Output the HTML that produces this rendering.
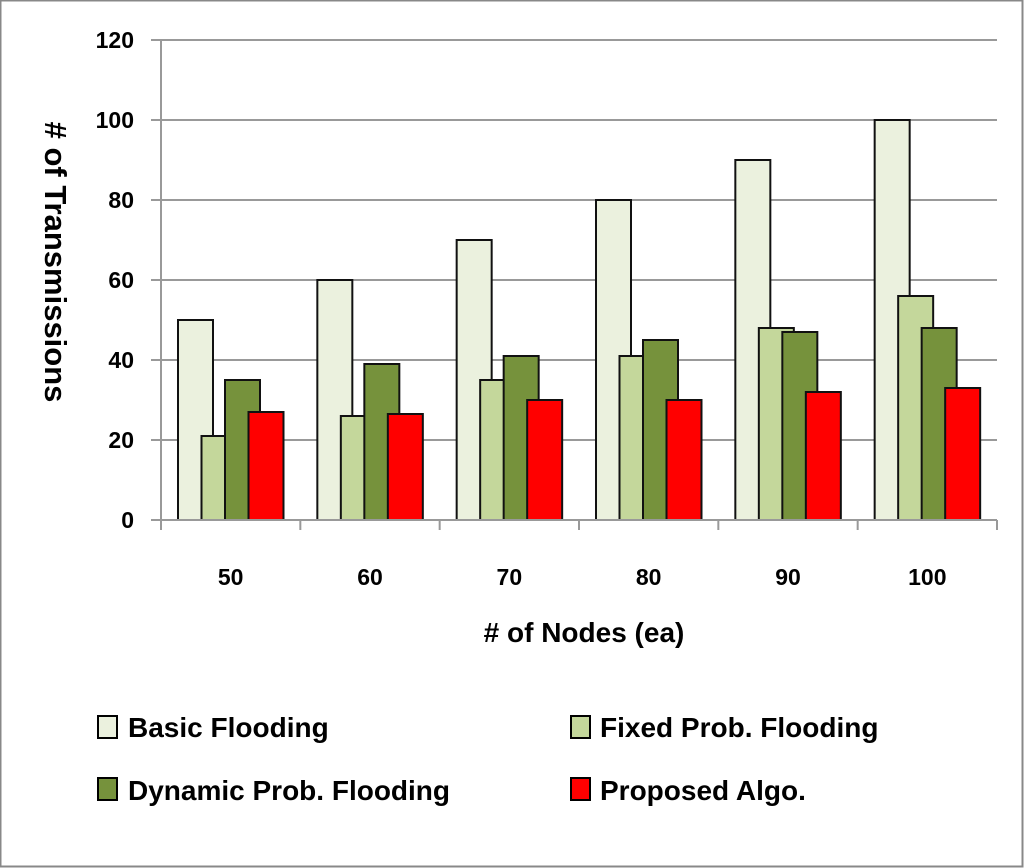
<!DOCTYPE html>
<html><head><meta charset="utf-8"><style>
body{margin:0;background:#fff}
svg{display:block}
text{font-family:"Liberation Sans",sans-serif;font-weight:bold;fill:#000}
</style></head><body>
<svg id="chart" width="1024" height="868">
<rect x="0.5" y="0.5" width="1022" height="866" fill="#fff" stroke="#888" stroke-width="2"/>
<g id="grid"></g><g id="bars"></g><g id="axes"></g>
<text x="0" y="0" transform="translate(45,262) rotate(90)" text-anchor="middle" font-size="31"># of Transmissions</text>
<text x="584" y="642" text-anchor="middle" font-size="28"># of Nodes (ea)</text>
<g>
<g><rect x="98" y="716" width="19" height="22" fill="#ebf1de" stroke="#000" stroke-width="2"/><text x="128" y="737" font-size="28">Basic Flooding</text></g>
<g><rect x="571" y="716" width="19" height="22" fill="#c4d79b" stroke="#000" stroke-width="2"/><text x="600" y="737" font-size="28">Fixed Prob. Flooding</text></g>
<g><rect x="98" y="778" width="19" height="22" fill="#76923c" stroke="#000" stroke-width="2"/><text x="128" y="800" font-size="28">Dynamic Prob. Flooding</text></g>
<g><rect x="571" y="778" width="19" height="22" fill="#ff0000" stroke="#000" stroke-width="2"/><text x="600" y="800" font-size="28">Proposed Algo.</text></g>
</g>
</svg>
<script>
const categories=["50","60","70","80","90","100"];
const basicFlooding=[50,60,70,80,90,100];
const fixedProbFlooding=[21,26,35,41,48,56];
const dynamicProbFlooding=[35,39,41,45,47,48];
const proposedAlgo=[27,26.5,30,30,32,33];
const yTicks=[0,20,40,60,80,100,120];
const NS="http://www.w3.org/2000/svg";
const X0=161,X1=997,Y0=520,Y1=40,YMAX=120;
const cw=(X1-X0)/categories.length;
const y=v=>Y0-(v/YMAX)*(Y0-Y1);
const xc=i=>X0+i*cw;
function mk(tag,attrs,parent){const e=document.createElementNS(NS,tag);for(const k in attrs)e.setAttribute(k,attrs[k]);parent.appendChild(e);return e;}
const grid=document.getElementById('grid'),bars=document.getElementById('bars'),axes=document.getElementById('axes');
yTicks.forEach(t=>{
 const l=mk('line',{x1:151,x2:X1,y1:y(t),y2:y(t),stroke:'#999','stroke-width':2},grid);
 
 
 const tx=mk('text',{x:134,y:y(t)+8,'text-anchor':'end','font-size':23},axes);
 tx.textContent=t;
 
 
});
const va=mk('line',{x1:X0,x2:X0,y1:Y1,y2:Y0,stroke:'#999','stroke-width':2},axes);


for(let i=0;i<=categories.length;i++){
 const tk=mk('line',{x1:xc(i),x2:xc(i),y1:Y0,y2:Y0+10,stroke:'#999','stroke-width':2},axes);
 
 
}
categories.forEach((c,i)=>{
 const tx=mk('text',{x:xc(i)+cw/2,y:585,'text-anchor':'middle','font-size':23},axes);
 tx.textContent=c;
 
 
});
const series=[[basicFlooding,'#ebf1de','basic'],[fixedProbFlooding,'#c4d79b','fixed'],[dynamicProbFlooding,'#76923c','dynamic'],[proposedAlgo,'#ff0000','proposed']];
categories.forEach((c,i)=>{
 series.forEach((s,j)=>{
  const v=s[0][i];
  const r=mk('rect',{x:xc(i)+17+j*23.5,y:y(v),width:35,height:Y0-y(v),fill:s[1],stroke:'#111','stroke-width':2},bars);
  
  
 });
});
const xa=mk('line',{x1:151,x2:X1,y1:Y0,y2:Y0,stroke:'#999','stroke-width':2},axes);


</script>
</body></html>
